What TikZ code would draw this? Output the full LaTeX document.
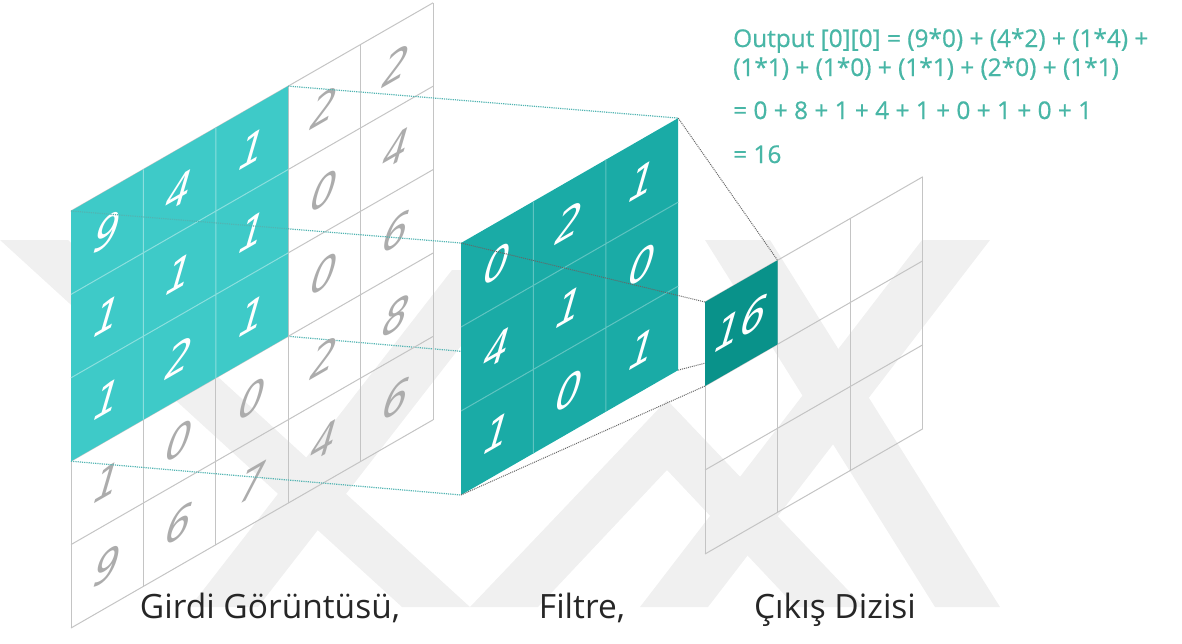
\documentclass[tikz,border=0pt]{standalone}
\usepackage{fontspec}
\setmainfont{Open Sans}
\newfontfamily\digitfont{DejaVu Sans}
\newfontfamily\sumfont[FakeBold=0.7]{Open Sans}
\definecolor{inputcyan}{RGB}{62,202,200}
\definecolor{filterteal}{RGB}{26,171,166}
\definecolor{outputteal}{RGB}{9,146,138}
\definecolor{sumteal}{RGB}{72,182,166}
\definecolor{gridgray}{RGB}{196,196,196}
\definecolor{digitgray}{RGB}{172,172,172}
\definecolor{markgray}{RGB}{240,240,240}
\definecolor{labelgray}{RGB}{38,38,38}

\begin{document}
\begin{tikzpicture}[
  x=1pt, y=-1pt,
  gridline/.style={draw=gridgray, line width=1pt},
  cyanline/.style={draw=white!40!inputcyan, line width=1pt},
  tealline/.style={draw=white!30!filterteal, line width=1pt},
  guide/.style={draw=inputcyan!70!gray, line width=1.2pt, densely dotted},
  darkguide/.style={draw=gray!80!black, line width=1pt, densely dotted},
  cellnum/.style={transform shape, xslant=0.35, inner sep=0pt,
    font=\digitfont\fontsize{40}{40}\selectfont},
  graynum/.style={cellnum, text=digitgray},
  whitenum/.style={cellnum, text=white},
  caption/.style={font=\fontsize{33.5}{38}\selectfont, text=labelgray, anchor=base},
  sumline/.style={font=\sumfont\fontsize{24.4}{28}\selectfont, text=sumteal,
    anchor=base west, inner sep=0pt}
]
\useasboundingbox (0,0) rectangle (1182,643);

% ===== Watermark =====
\fill[markgray] (0,240) -- (68,240) -- (470,607) -- (402,607) -- cycle;
\fill[markgray] (190,607) -- (258,607) -- (520,270) -- (452,270) -- cycle;
\fill[markgray] (470,607) -- (667,400) -- (864,607) -- (796,607) -- (667,470) -- (538,607) -- cycle;
\fill[markgray] (640,607) -- (708,607) -- (990,240) -- (922,240) -- cycle;
\fill[markgray] (705,240) -- (770,240) -- (1000,607) -- (935,607) -- cycle;

% ===== Corner points =====
\coordinate (inTL) at (71,211);
\coordinate (inTR) at (288.2,86.1);
\coordinate (inBR) at (288.2,336.3);
\coordinate (inBL) at (71,461.2);
\coordinate (fTL) at (461,243);
\coordinate (fTR) at (678.2,118.1);
\coordinate (fBR) at (678.2,370.1);
\coordinate (fBL) at (461,495);
\coordinate (oTL) at (705,302);
\coordinate (oTR) at (777.6,260.3);
\coordinate (oBR) at (777.6,344.3);
\coordinate (oBL) at (705,386);

% hidden edge, runs behind the filter
\draw[guide] (inBR) -- (fBR);

% ===== Input image 5x5 =====
\begin{scope}[shift={(71,211)}, yslant=0.575]
  \foreach \i in {0,...,5} {
    \draw[gridline] (\i*72.4,0) -- (\i*72.4,417);
    \draw[gridline] (0,\i*83.4) -- (362,\i*83.4);
  }
  \fill[inputcyan] (0,0) -- (217.2,0) -- (217.2,250.2) -- (0,250.2) -- cycle;
  \draw[cyanline] (72.4,0) -- (72.4,250.2) (144.8,0) -- (144.8,250.2)
    (0,83.4) -- (217.2,83.4) (0,166.8) -- (217.2,166.8);
  % row 1
  \node[whitenum] (in11) at (36.2,41.7) {9};
  \node[whitenum] (in12) at (108.6,41.7) {4};
  \node[whitenum] (in13) at (181,41.7) {1};
  \node[graynum] (in14) at (253.4,41.7) {2};
  \node[graynum] (in15) at (325.8,41.7) {2};
  % row 2
  \node[whitenum] (in21) at (36.2,125.1) {1};
  \node[whitenum] (in22) at (108.6,125.1) {1};
  \node[whitenum] (in23) at (181,125.1) {1};
  \node[graynum] (in24) at (253.4,125.1) {0};
  \node[graynum] (in25) at (325.8,125.1) {4};
  % row 3
  \node[whitenum] (in31) at (36.2,208.5) {1};
  \node[whitenum] (in32) at (108.6,208.5) {2};
  \node[whitenum] (in33) at (181,208.5) {1};
  \node[graynum] (in34) at (253.4,208.5) {0};
  \node[graynum] (in35) at (325.8,208.5) {6};
  % row 4
  \node[graynum] (in41) at (36.2,291.9) {1};
  \node[graynum] (in42) at (108.6,291.9) {0};
  \node[graynum] (in43) at (181,291.9) {0};
  \node[graynum] (in44) at (253.4,291.9) {2};
  \node[graynum] (in45) at (325.8,291.9) {8};
  % row 5
  \node[graynum] (in51) at (36.2,375.3) {9};
  \node[graynum] (in52) at (108.6,375.3) {6};
  \node[graynum] (in53) at (181,375.3) {7};
  \node[graynum] (in54) at (253.4,375.3) {4};
  \node[graynum] (in55) at (325.8,375.3) {6};
\end{scope}

% edges from the window to the filter
\draw[guide] (inTR) -- (fTR);
\draw[guide] (inBL) -- (fBL);
\draw[guide] (inTL) -- (fTL);

% ===== Filter 3x3 =====
\begin{scope}[shift={(461,243)}, yslant=0.575]
  \fill[filterteal] (0,0) -- (217.2,0) -- (217.2,252) -- (0,252) -- cycle;
  \draw[tealline] (72.4,0) -- (72.4,252) (144.8,0) -- (144.8,252)
    (0,84) -- (217.2,84) (0,168) -- (217.2,168);
  \node[whitenum] (f11) at (36.2,42) {0};
  \node[whitenum] (f12) at (108.6,42) {2};
  \node[whitenum] (f13) at (181,42) {1};
  \node[whitenum] (f21) at (36.2,126) {4};
  \node[whitenum] (f22) at (108.6,126) {1};
  \node[whitenum] (f23) at (181,126) {0};
  \node[whitenum] (f31) at (36.2,210) {1};
  \node[whitenum] (f32) at (108.6,210) {0};
  \node[whitenum] (f33) at (181,210) {1};
\end{scope}

% edges from the filter to the output cell
\draw[darkguide] (fBR) -- (oBR);
\draw[darkguide] (fTR) -- (oTR);
\draw[darkguide] (fBL) -- (oBL);
\draw[darkguide] (fTL) -- (oTL);

% ===== Output 3x3 =====
\begin{scope}[shift={(705,302)}, yslant=0.575]
  \foreach \i in {0,...,3} {
    \draw[gridline] (\i*72.6,0) -- (\i*72.6,252);
    \draw[gridline] (0,\i*84) -- (217.8,\i*84);
  }
  \fill[outputteal] (0,0) -- (72.6,0) -- (72.6,84) -- (0,84) -- cycle;
  \node[whitenum] (out11) at (36.3,42) {16};
\end{scope}

% ===== Sum =====
\node[sumline] (sum1) at (733,47) {Output [0][0] = (9*0) + (4*2) + (1*4) +};
\node[sumline] (sum2) at (733,76) {(1*1) + (1*0) + (1*1) + (2*0) + (1*1)};
\node[sumline] (sum3) at (733,119) {= 0 + 8 + 1 + 4 + 1 + 0 + 1 + 0 + 1};
\node[sumline] (sum4) at (733,163) {= 16};

% ===== Captions =====
\node[caption] (incap) at (270,618) {Girdi Görüntüsü,};
\node[caption] (fcap) at (582,618) {Filtre,};
\node[caption] (outcap) at (835,618) {Çıkış Dizisi};

\end{tikzpicture}
\end{document}
